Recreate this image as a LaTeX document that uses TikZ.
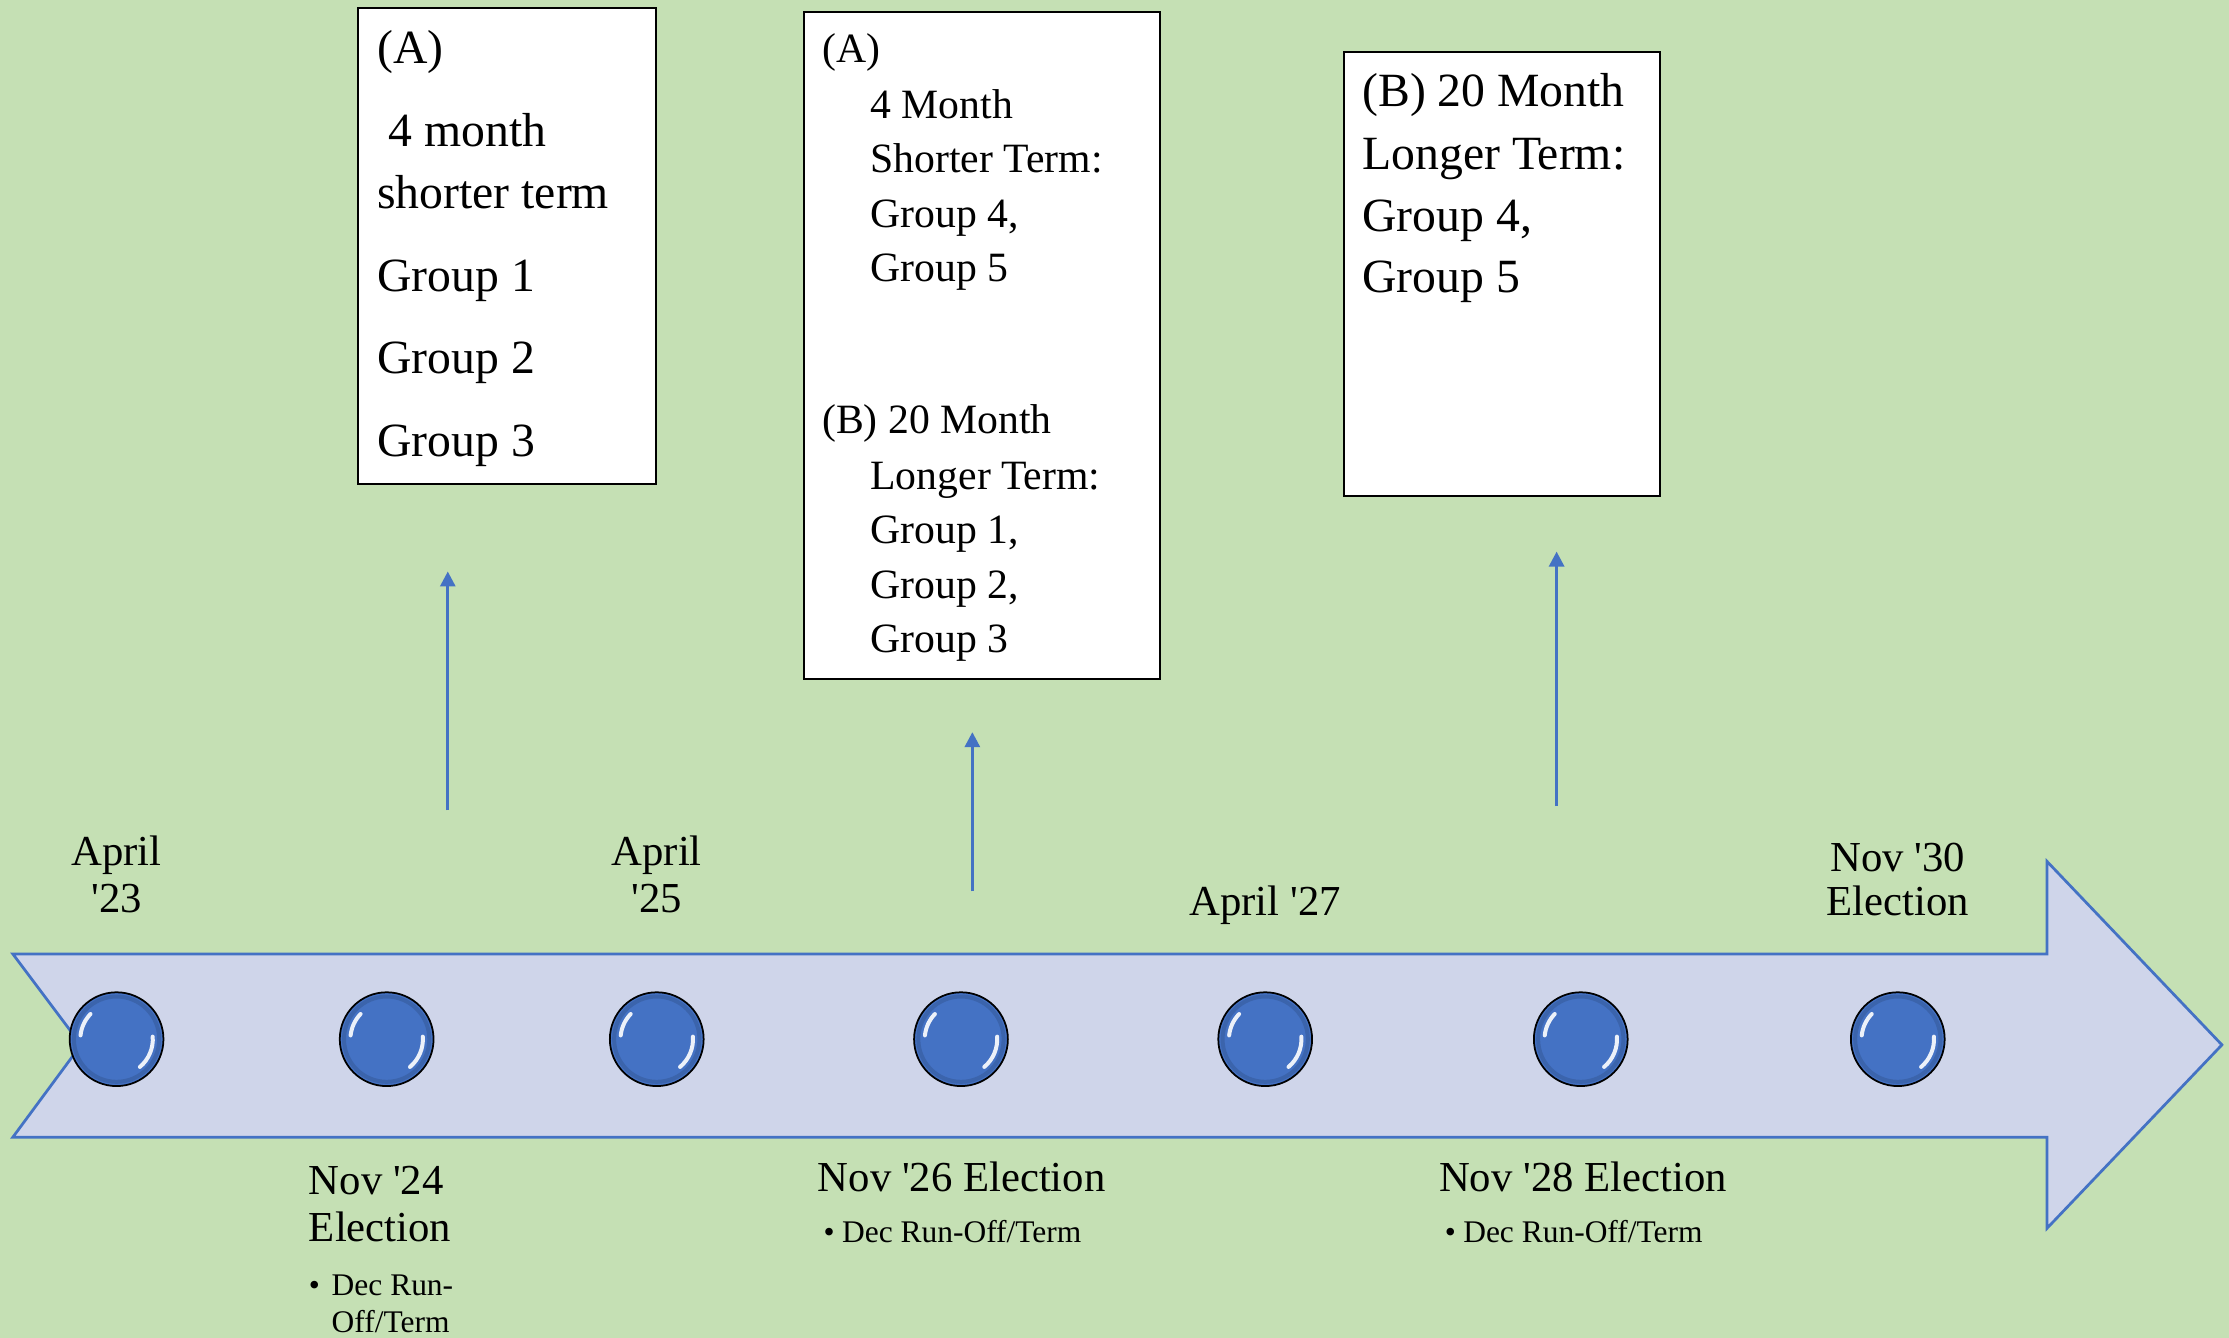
\documentclass[tikz,border=0pt]{standalone}
\usepackage{fontspec}
\setmainfont{Liberation Serif}
\usetikzlibrary{arrows.meta, calc}
\definecolor{bggreen}{RGB}{197,224,180}
\definecolor{bandblue}{RGB}{207,213,234}
\definecolor{edgeblue}{RGB}{68,114,196}
\tikzstyle{band} = [fill=bandblue, draw=edgeblue, line width=1.1pt, line join=miter]
\tikzstyle{dot} = [circle, minimum size=1.32cm, inner sep=0pt, fill=edgeblue, draw=black, line width=0.7pt]
\tikzstyle{rim} = [edgeblue!65!black, line width=1.6pt, opacity=0.35]
\tikzstyle{shine} = [white, line width=1.6pt, line cap=round, opacity=0.9]
\tikzstyle{uparrow} = [edgeblue, line width=1.2pt, -{Triangle[width=6pt,length=6pt]}]
\tikzstyle{termbox} = [draw=black, fill=white, line width=0.8pt, inner sep=0pt, anchor=north west]
\tikzstyle{bigtxt} = [anchor=base west, inner sep=0pt, font=\fontsize{19.1pt}{22pt}\selectfont]
\tikzstyle{midtxt} = [anchor=base west, inner sep=0pt, font=\fontsize{16.7pt}{19pt}\selectfont]
\tikzstyle{datetxt} = [anchor=base, inner sep=0pt, font=\fontsize{17.1pt}{19pt}\selectfont]
\tikzstyle{evttxt} = [anchor=base west, inner sep=0pt, font=\fontsize{17.1pt}{19pt}\selectfont]
\tikzstyle{notetxt} = [anchor=base west, inner sep=0pt, font=\fontsize{12.6pt}{14pt}\selectfont]

\begin{document}
\begin{tikzpicture}[x=0.02cm, y=-0.02cm]

        \fill[bggreen] (0,0) rectangle (1568,941);
        \useasboundingbox (0,0) rectangle (1568,941);

        % timeline band
        \draw[band] (9,671) -- (1440,671) -- (1440,606) -- (1563,735) -- (1440,864)
            -- (1440,800) -- (9,800) -- (57,735) -- cycle;

        \foreach \x [count=\i] in {82,272,462,676,890,1112,1335} {
            \node at (\x,731) [dot](d\i) {};
            \draw[rim] (d\i.center) circle[radius=0.6cm];
            \draw[shine] (d\i.center) ++(174:0.51cm) arc[start angle=174, end angle=136, radius=0.51cm];
            \draw[shine] (d\i.center) ++(-50:0.51cm) arc[start angle=-50, end angle=4, radius=0.51cm];
        }

        % boxes
        \node at (251,5) [termbox, minimum width=4.2cm, minimum height=6.7cm](box1) {};
        \node at (565,8) [termbox, minimum width=5.0cm, minimum height=9.38cm](box2) {};
        \node at (945,36) [termbox, minimum width=4.44cm, minimum height=6.24cm](box3) {};

        \node at (265,45) [bigtxt](b1a) {(A)};
        \node at (273,103) [bigtxt](b1b) {4 month};
        \node at (265,147) [bigtxt](b1c) {shorter term};
        \node at (265,205) [bigtxt](b1d) {Group 1};
        \node at (265,263) [bigtxt](b1e) {Group 2};
        \node at (265,321) [bigtxt](b1f) {Group 3};

        \node at (578,44) [midtxt](b2a) {(A)};
        \node at (612,83) [midtxt](b2b) {4 Month};
        \node at (612,121) [midtxt](b2c) {Shorter Term:};
        \node at (612,160) [midtxt](b2d) {Group 4,};
        \node at (612,198) [midtxt](b2e) {Group 5};
        \node at (578,305) [midtxt](b2f) {(B) 20 Month};
        \node at (612,344) [midtxt](b2g) {Longer Term:};
        \node at (612,382) [midtxt](b2h) {Group 1,};
        \node at (612,421) [midtxt](b2i) {Group 2,};
        \node at (612,459) [midtxt](b2j) {Group 3};

        \node at (958,75) [bigtxt](b3a) {(B) 20 Month};
        \node at (958,119) [bigtxt](b3b) {Longer Term:};
        \node at (958,163) [bigtxt](b3c) {Group 4,};
        \node at (958,206) [bigtxt](b3d) {Group 5};

        % arrows up to the boxes
        \coordinate (a1s) at (315,570);
        \coordinate (a1e) at (315,402);
        \coordinate (a2s) at (684,627);
        \coordinate (a2e) at (684,515);
        \coordinate (a3s) at (1095,567);
        \coordinate (a3e) at (1095,388);
        \draw[uparrow] (a1s) -- (a1e);
        \draw[uparrow] (a2s) -- (a2e);
        \draw[uparrow] (a3s) -- (a3e);

        % dates above
        \node at (82,609) [datetxt](t1a) {April};
        \node at (82,642) [datetxt](t1b) {\textquotesingle 23};
        \node at (462,609) [datetxt](t3a) {April};
        \node at (462,642) [datetxt](t3b) {\textquotesingle 25};
        \node at (890,644) [datetxt](t5) {April \textquotesingle 27};
        \node at (1335,613) [datetxt](t7a) {Nov \textquotesingle 30};
        \node at (1335,644) [datetxt](t7b) {Election};

        % elections below
        \node at (217,840) [evttxt](e2a) {Nov \textquotesingle 24};
        \node at (217,873) [evttxt](e2b) {Election};
        \node at (217,911) [notetxt](n2) {\textbullet};
        \node at (233,911) [notetxt](n2a) {Dec Run-};
        \node at (233,937) [notetxt](n2b) {Off/Term};

        \node at (575,838) [evttxt](e4) {Nov \textquotesingle 26 Election};
        \node at (579,874) [notetxt](n4) {\textbullet};
        \node at (592,874) [notetxt](n4a) {Dec Run-Off/Term};

        \node at (1012,838) [evttxt](e6) {Nov \textquotesingle 28 Election};
        \node at (1016,874) [notetxt](n6) {\textbullet};
        \node at (1029,874) [notetxt](n6a) {Dec Run-Off/Term};

    \end{tikzpicture}
\end{document}
